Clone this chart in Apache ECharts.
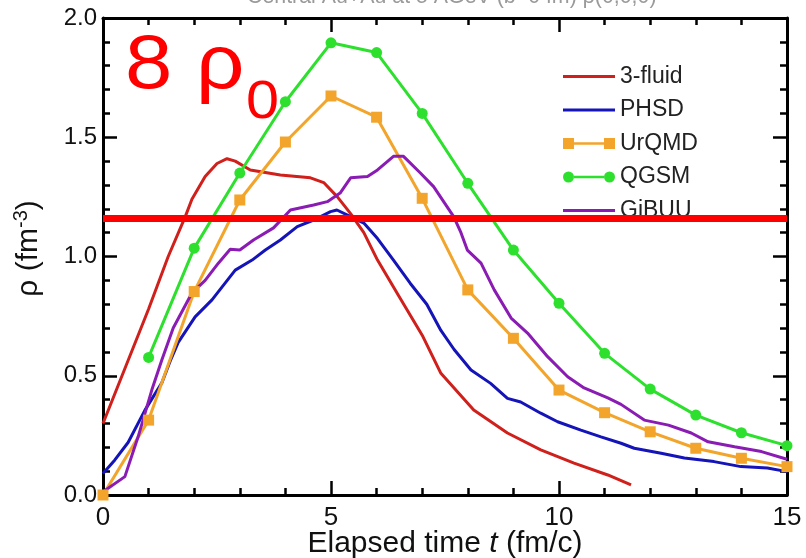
<!DOCTYPE html>
<html>
<head>
<meta charset="utf-8">
<script src="https://cdn.jsdelivr.net/npm/echarts@6/dist/echarts.min.js"></script>
<style>
  html, body { margin: 0; padding: 0; background: #fff; }
  #chart { width: 806px; height: 558px; }
</style>
</head>
<body>
<div id="chart"></div>
<script>
// Central baryon density vs. elapsed time for five transport / hydro models
const threeFluid = [
  [0, 0.30], [0.5, 0.54], [1, 0.78], [1.43, 1.0], [1.8, 1.165], [1.95, 1.24], [2.24, 1.335],
  [2.5, 1.39], [2.72, 1.41], [2.9, 1.40], [3.23, 1.363], [3.89, 1.342], [4.55, 1.33],
  [4.84, 1.31], [5.14, 1.25], [5.43, 1.18], [5.72, 1.10], [6.02, 0.985], [6.5, 0.83],
  [7, 0.67], [7.41, 0.51], [8.13, 0.356], [8.87, 0.26], [9.6, 0.189], [10.33, 0.134],
  [11.07, 0.084], [11.58, 0.042]
];

const phsd = [
  [0, 0.09], [0.26, 0.147], [0.55, 0.22], [0.92, 0.356], [1.29, 0.47], [1.47, 0.56],
  [1.65, 0.64], [2.02, 0.747], [2.39, 0.818], [2.9, 0.943], [3.27, 0.985], [3.56, 1.027],
  [3.89, 1.069], [4.26, 1.125], [4.62, 1.153], [4.99, 1.188], [5.13, 1.195], [5.43, 1.167],
  [5.72, 1.14], [6.02, 1.075], [6.37, 0.985], [6.74, 0.887], [7.1, 0.80], [7.41, 0.69],
  [7.7, 0.61], [8.07, 0.524], [8.5, 0.468], [8.87, 0.405], [9.16, 0.39], [9.6, 0.343],
  [9.97, 0.307], [10.48, 0.272], [10.92, 0.244], [11.36, 0.217], [11.65, 0.196],
  [12.24, 0.175], [12.75, 0.155], [13.4, 0.14], [13.99, 0.119], [14.57, 0.113], [15, 0.098]
];

const urqmdTime = [0, 1, 2, 3, 4, 5, 6, 7, 8, 9, 10, 11, 12, 13, 14, 15];
const urqmdRho  = [0.0, 0.314, 0.853, 1.237, 1.48, 1.673, 1.584, 1.244, 0.86, 0.657,
                   0.44, 0.345, 0.265, 0.196, 0.154, 0.119];

const qgsmTime = [1, 2, 3, 4, 5, 6, 7, 8, 9, 10, 11, 12, 13, 14, 15];
const qgsmRho  = [0.577, 1.035, 1.35, 1.649, 1.896, 1.855, 1.60, 1.307, 1.027, 0.804,
                  0.594, 0.444, 0.335, 0.261, 0.207];

const gibuu = [
  [0, 0], [0.05, 0.02], [0.48, 0.077], [0.77, 0.244], [1.07, 0.44], [1.29, 0.566],
  [1.54, 0.70], [1.95, 0.847], [2.24, 0.90], [2.53, 0.972], [2.79, 1.03], [3.0, 1.027],
  [3.3, 1.069], [3.74, 1.12], [4.11, 1.195], [4.62, 1.216], [4.92, 1.23], [5.2, 1.266],
  [5.43, 1.33], [5.8, 1.335], [6.02, 1.363], [6.37, 1.42], [6.59, 1.42], [6.96, 1.35],
  [7.25, 1.293], [7.69, 1.167], [7.85, 1.10], [7.99, 1.027], [8.29, 0.972], [8.58, 0.86],
  [8.95, 0.742], [9.31, 0.679], [9.75, 0.58], [10.19, 0.496], [10.55, 0.449],
  [11.07, 0.407], [11.36, 0.38], [11.87, 0.314], [12.4, 0.293], [12.9, 0.26],
  [13.27, 0.223], [13.85, 0.202], [14.44, 0.182], [15, 0.15]
];

// eight times normal nuclear density
const rhoThreshold = 1.164;

const seriesNames = ['3-fluid', 'PHSD', 'UrQMD', 'QGSM', 'GiBUU'];
const xTicks = [0, 5, 10, 15];
const yTicks = [0.0, 0.5, 1.0, 1.5, 2.0];

const colors = {
  '3-fluid': '#d0201c',
  'PHSD': '#1414b8',
  'UrQMD': '#f2a52a',
  'QGSM': '#2ee02e',
  'GiBUU': '#8a1cb4'
};

const zip = (xs, ys) => xs.map((x, i) => [x, ys[i]]);

const FONT = '"Liberation Sans", Arial, Helvetica, sans-serif';

const lineIcon = 'path://M0,0h52v3h-52z';
const squareIcon = 'path://M0,0h11v11h-11z M11,4.25h30v2.5h-30z M41,0h11v11h-11z';
const circleIcon = 'path://M0,5.5a5.5,5.5 0 1,0 11,0a5.5,5.5 0 1,0 -11,0z M11,4.25h30v2.5h-30z M41,5.5a5.5,5.5 0 1,0 11,0a5.5,5.5 0 1,0 -11,0z';
const icons = {
  '3-fluid': lineIcon, 'PHSD': lineIcon, 'UrQMD': squareIcon, 'QGSM': circleIcon, 'GiBUU': lineIcon
};

// boxed frame: every side carries inward major and minor ticks
function frameAxis(extra) {
  return Object.assign({
    type: 'value',
    axisLine: { show: true, onZero: false, lineStyle: { color: '#000', width: 3 } },
    axisTick: { show: true, inside: true, length: 14, lineStyle: { color: '#000', width: 2.5 } },
    minorTick: { show: true, splitNumber: 5, length: 7, lineStyle: { color: '#000', width: 2.5 } },
    splitLine: { show: false },
    minorSplitLine: { show: false }
  }, extra);
}

function lineSeries(name, data, extra) {
  return Object.assign({
    name: name,
    type: 'line',
    data: data,
    showSymbol: false,
    symbol: 'none',
    smooth: false,
    z: 3,
    lineStyle: { color: colors[name], width: 3 },
    itemStyle: { color: colors[name] },
    emphasis: { disabled: true }
  }, extra || {});
}

const chart = echarts.init(document.getElementById('chart'), null, { renderer: 'canvas' });

chart.setOption({
  animation: false,
  backgroundColor: '#ffffff',
  grid: { left: 103, right: 19, top: 18, bottom: 63, containLabel: false, outerBoundsMode: 'none' },
  xAxis: [
    frameAxis({
      position: 'bottom',
      min: xTicks[0], max: xTicks[xTicks.length - 1], interval: 5,
      axisLabel: { show: true, margin: 10, fontSize: 26, color: '#111', fontFamily: FONT,
                   formatter: v => xTicks.includes(v) ? String(v) : '' },
      name: '{n|Elapsed time }{i|t}{n| (fm/c)}',
      nameLocation: 'middle',
      nameGap: 34,
      nameMoveOverlap: false,
      nameTextStyle: {
        rich: {
          n: { fontSize: 30, color: '#111', fontFamily: FONT },
          i: { fontSize: 30, color: '#111', fontFamily: FONT, fontStyle: 'italic' }
        }
      }
    }),
    frameAxis({
      position: 'top',
      min: 0, max: 15, interval: 5,
      axisLabel: { show: false }
    })
  ],
  yAxis: [
    frameAxis({
      position: 'left',
      min: yTicks[0], max: yTicks[yTicks.length - 1], interval: 0.5,
      axisLabel: { show: true, margin: 6, fontSize: 24, color: '#111', fontFamily: FONT,
                   formatter: v => v.toFixed(1) },
      name: '{a|ρ (fm}{s|-3}{a|)}',
      nameLocation: 'middle',
      nameGap: 56,
      nameRotate: 90,
      nameTextStyle: {
        padding: [0, 0, 0, 16],
        rich: {
          a: { fontSize: 30, color: '#111', fontFamily: FONT, lineHeight: 36 },
          s: { fontSize: 20, color: '#111', fontFamily: FONT, verticalAlign: 'top', lineHeight: 20 }
        }
      }
    }),
    frameAxis({
      position: 'right',
      min: 0, max: 2, interval: 0.5,
      axisLabel: { show: false }
    })
  ],
  legend: {
    orient: 'vertical',
    left: 558,
    top: 60,
    itemWidth: 52,
    itemHeight: 12,
    itemGap: 10.5,
    itemTextGap: 20,
    z: 4,
    selectedMode: false,
    textStyle: { fontSize: 23, color: '#222', fontFamily: FONT, lineHeight: 22 },
    data: seriesNames.map(n => ({ name: n, icon: icons[n], itemStyle: { color: colors[n], borderWidth: 0 } }))
  },
  series: [
    lineSeries('3-fluid', threeFluid),
    lineSeries('PHSD', phsd),
    lineSeries('UrQMD', zip(urqmdTime, urqmdRho), {
      showSymbol: true, symbol: 'rect', symbolSize: 11, clip: false
    }),
    lineSeries('QGSM', zip(qgsmTime, qgsmRho), {
      showSymbol: true, symbol: 'circle', symbolSize: 11
    }),
    lineSeries('GiBUU', gibuu),
    {
      name: 'threshold',
      type: 'line',
      data: [],
      z: 10,
      markLine: {
        silent: true,
        symbol: ['none', 'none'],
        label: { show: false },
        lineStyle: { color: '#ff0000', width: 7, type: 'solid' },
        data: [{ yAxis: rhoThreshold }]
      }
    }
  ],
  graphic: [
    {
      type: 'text',
      x: 247, y: -3,
      scaleX: 0.97,
      z: 1,
      style: {
        text: 'Central Au+Au at 5 AGeV (b=0 fm) ρ(0,0,0)',
        fontSize: 22, fill: '#9a9a9a', fontFamily: FONT,
        textAlign: 'left', textVerticalAlign: 'middle'
      }
    },
    {
      type: 'text',
      x: 125, y: 67,
      scaleX: 1.12,
      z: 20,
      style: {
        text: '8 ρ',
        fontSize: 76, fill: '#ff0000', fontFamily: FONT,
        textAlign: 'left', textVerticalAlign: 'middle'
      }
    },
    {
      type: 'text',
      x: 246, y: 103,
      scaleX: 1.12,
      z: 20,
      style: {
        text: '0',
        fontSize: 53, fill: '#ff0000', fontFamily: FONT,
        textAlign: 'left', textVerticalAlign: 'middle'
      }
    }
  ]
});
</script>
</body>
</html>
